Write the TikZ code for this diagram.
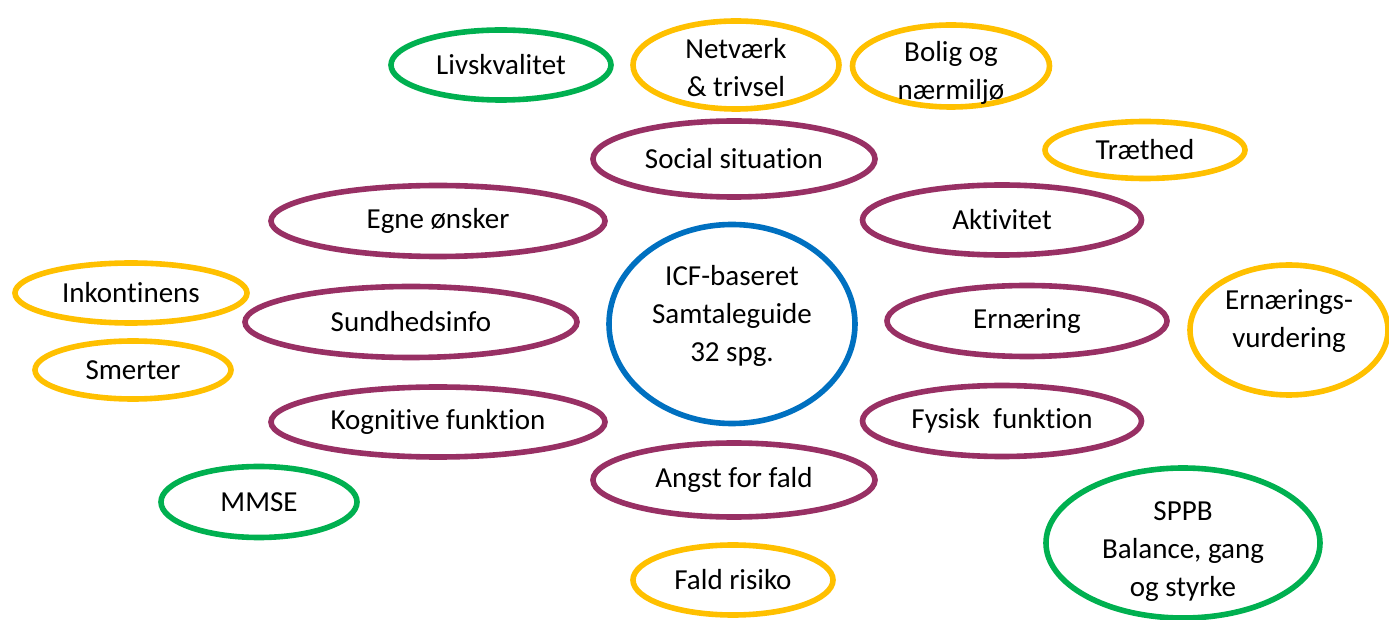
\documentclass[tikz,border=0pt]{standalone}
\usepackage{fontspec}
\setmainfont{Carlito}[Ligatures={NoCommon,NoContextual}]
\usetikzlibrary{shapes.geometric}
\definecolor{cgreen}{HTML}{00B050}
\definecolor{cyellow}{HTML}{FFC000}
\definecolor{cpurple}{HTML}{983064}
\definecolor{cblue}{HTML}{0070C0}
\tikzset{
  bub/.style={ellipse, draw=#1, line width=2.8pt, inner sep=0pt, fill=none},
  ew/.style={minimum width=#1*0.5pt},
  eh/.style={minimum height=#1*0.5pt},
  txt/.style={align=center, inner sep=0pt, font=\fontsize{14.5}{19}\selectfont, text=black},
}
\begin{document}
\begin{tikzpicture}[x=0.5pt,y=-0.5pt]
\useasboundingbox (0,0) rectangle (1389,620);
% top row
\node[bub=cgreen, ew=220, eh=70, label={[txt]center:Livskvalitet}] (liv) at (501,65) {};
\node[bub=cyellow, ew=206, eh=88, label={[txt,yshift=-1.5pt]center:Netværk\\\& trivsel}] (net) at (736,65) {};
\node[bub=cyellow, ew=197, eh=82, label={[txt,yshift=-3.5pt]center:Bolig og\\nærmiljø}] (bol) at (951,66) {};
% purple ring
\node[bub=cpurple, ew=282, eh=76, label={[txt]center:Social situation}] (soc) at (734,159) {};
\node[bub=cpurple, ew=334, eh=71, label={[txt]center:Egne ønsker}] (egn) at (438,221) {};
\node[bub=cpurple, ew=279, eh=70, label={[txt]center:Aktivitet}] (akt) at (1002,220) {};
\node[bub=cpurple, ew=332, eh=71, label={[txt]center:Sundhedsinfo}] (sun) at (411,322) {};
\node[bub=cpurple, ew=280, eh=71, label={[txt]center:Ernæring}] (ern) at (1027,321) {};
\node[bub=cpurple, ew=334, eh=70, label={[txt]center:Kognitive funktion}] (kog) at (438,422) {};
\node[bub=cpurple, ew=279, eh=71, label={[txt]center:Fysisk\ \ funktion}] (fys) at (1002,421) {};
\node[bub=cpurple, ew=282, eh=74, label={[txt]center:Angst for fald}] (ang) at (734,480) {};
% center
\node[bub=cblue, ew=246, eh=199, label={[txt,yshift=4pt]center:ICF-baseret\\Samtaleguide\\32 spg.}] (icf) at (732,324) {};
% outer
\node[bub=cyellow, ew=200, eh=57, label={[txt]center:Træthed}] (tra) at (1145,150) {};
\node[bub=cyellow, ew=232, eh=60, label={[txt]center:Inkontinens}] (ink) at (131,293) {};
\node[bub=cyellow, ew=196, eh=58, label={[txt]center:Smerter}] (sme) at (133,370) {};
\node[bub=cyellow, ew=198, eh=130, label={[txt,yshift=4.5pt]center:Ernærings-\\vurdering}] (evu) at (1289,330) {};
\node[bub=cgreen, ew=196, eh=71, label={[txt]center:MMSE}] (mms) at (259,502) {};
\node[bub=cgreen, ew=274, eh=150, label={[txt,yshift=-4.5pt]center:SPPB\\Balance, gang\\og styrke}] (spp) at (1183,543) {};
\node[bub=cyellow, ew=200, eh=70, label={[txt]center:Fald risiko}] (fal) at (733,580) {};
\end{tikzpicture}
\end{document}
